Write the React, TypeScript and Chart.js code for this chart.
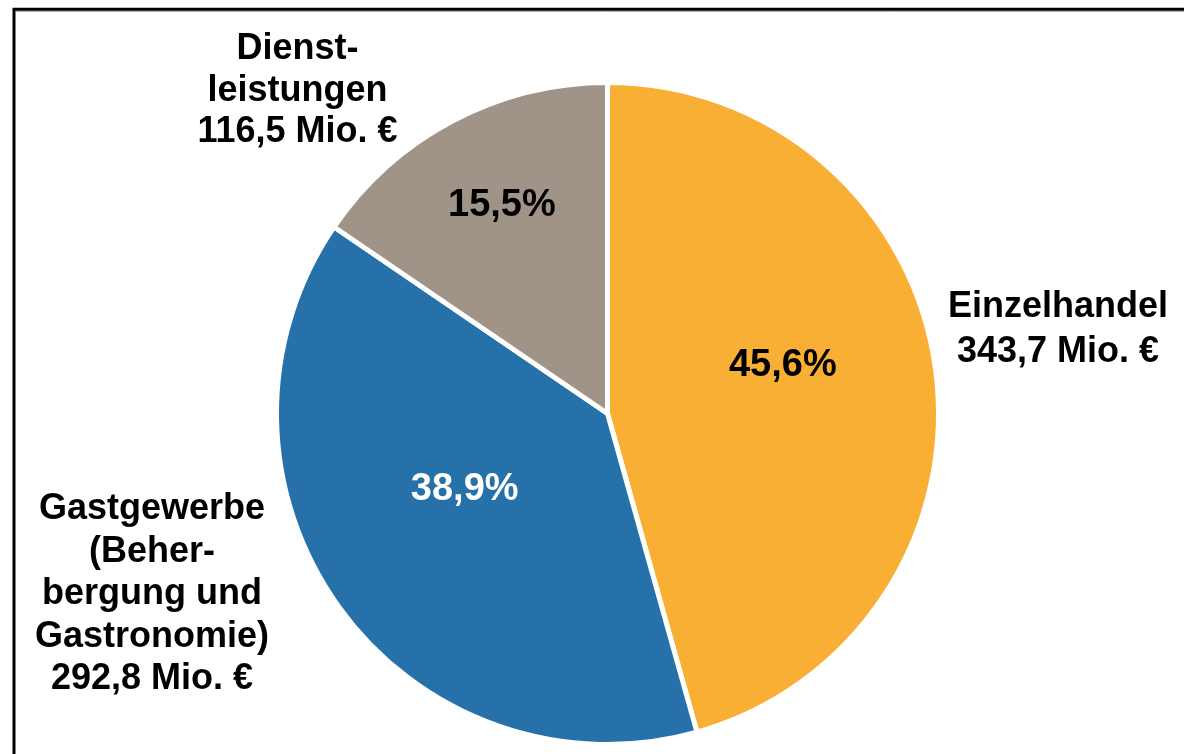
import React, { useEffect, useRef } from "react";
import { Chart, registerables } from "chart.js";

Chart.register(...registerables);

// ---- Data ----
const categories = ["Einzelhandel", "Gastgewerbe (Beherbergung und Gastronomie)", "Dienstleistungen"];
const valuesMio = [343.7, 292.8, 116.5];
const percentLabels = ["45,6%", "38,9%", "15,5%"];
const outerLabelLines = [
  ["Einzelhandel", "343,7 Mio. €"],
  ["Gastgewerbe", "(Beher-", "bergung und", "Gastronomie)", "292,8 Mio. €"],
  ["Dienst-", "leistungen", "116,5 Mio. €"],
];

// ---- Styles / layout ----
const sliceColors = ["#F9AE34", "#2771AB", "#A09387"];
const percentColors = ["#000000", "#FFFFFF", "#000000"];
// percent label placement: [fraction of radius, angle shift in degrees]
const percentPlacement = [
  [0.552, -8.5],
  [0.485, 8.5],
  [0.714, 1.3],
];
// outer label placement relative to pie centre: [dx, first baseline dy, line height]
const outerPlacement = [
  [450.5, -96.8, 45],
  [-455.5, 105.8, 42.5],
  [-310, -354.2, 41.2],
];
const FONT = '"Liberation Sans", Arial, sans-serif';

const labelPlugin = {
  id: "customLabels",
  afterDatasetsDraw(chart: any) {
    const ctx = chart.ctx;
    const meta = chart.getDatasetMeta(0);
    const arcs = meta.data;
    if (!arcs.length) return;
    const cx = arcs[0].x;
    const cy = arcs[0].y;
    ctx.save();
    // percentages
    const pSize = 38;
    ctx.font = `bold ${pSize}px ${FONT}`;
    ctx.textAlign = "center";
    ctx.textBaseline = "alphabetic";
    arcs.forEach((arc: any, i: number) => {
      const p = arc.getProps(["startAngle", "endAngle", "outerRadius"], true);
      const mid = (p.startAngle + p.endAngle) / 2 + (percentPlacement[i][1] * Math.PI) / 180;
      const r = percentPlacement[i][0] * p.outerRadius;
      const x = cx + r * Math.cos(mid);
      const y = cy + r * Math.sin(mid);
      ctx.fillStyle = percentColors[i];
      ctx.fillText(percentLabels[i], x, y + (0.716 * pSize) / 2);
    });
    // outer labels
    ctx.font = `bold 36px ${FONT}`;
    ctx.fillStyle = "#000000";
    outerLabelLines.forEach((lines, i) => {
      const [dx, dy, lh] = outerPlacement[i];
      lines.forEach((line, j) => {
        ctx.fillText(line, cx + dx, cy + dy + j * lh);
      });
    });
    ctx.restore();
  },
  afterDraw(chart: any) {
    const ctx = chart.ctx;
    ctx.save();
    ctx.strokeStyle = "#000000";
    ctx.lineWidth = 3;
    ctx.beginPath();
    ctx.moveTo(14, 760);
    ctx.lineTo(14, 9.3);
    ctx.lineTo(1190, 9.3);
    ctx.stroke();
    ctx.strokeStyle = "rgba(120,120,120,0.6)";
    ctx.lineWidth = 1;
    ctx.beginPath();
    ctx.moveTo(15.5, 11.5);
    ctx.lineTo(1190, 11.5);
    ctx.stroke();
    ctx.restore();
  },
};

export default function App() {
  const canvasRef = useRef<HTMLCanvasElement | null>(null);

  useEffect(() => {
    const canvas = canvasRef.current;
    if (!canvas) return;
    const chart = new Chart(canvas, {
      type: "pie",
      data: {
        labels: categories,
        datasets: [
          {
            data: valuesMio,
            backgroundColor: sliceColors,
            borderColor: "#FFFFFF",
            borderWidth: 5,
          },
        ],
      },
      options: {
        responsive: false,
        animation: false,
        devicePixelRatio: 1,
        layout: { padding: { top: 80, bottom: 7, left: 274, right: 243 } },
        plugins: {
          legend: { display: false },
          tooltip: { enabled: false },
        },
      },
      plugins: [labelPlugin],
    });
    return () => chart.destroy();
  }, []);

  return (
    <div style={{ position: "fixed", left: 0, top: 0, width: 1184, height: 754, background: "#FFFFFF" }}>
      <canvas ref={canvasRef} width={1184} height={754} style={{ display: "block", width: 1184, height: 754 }} />
    </div>
  );
}
